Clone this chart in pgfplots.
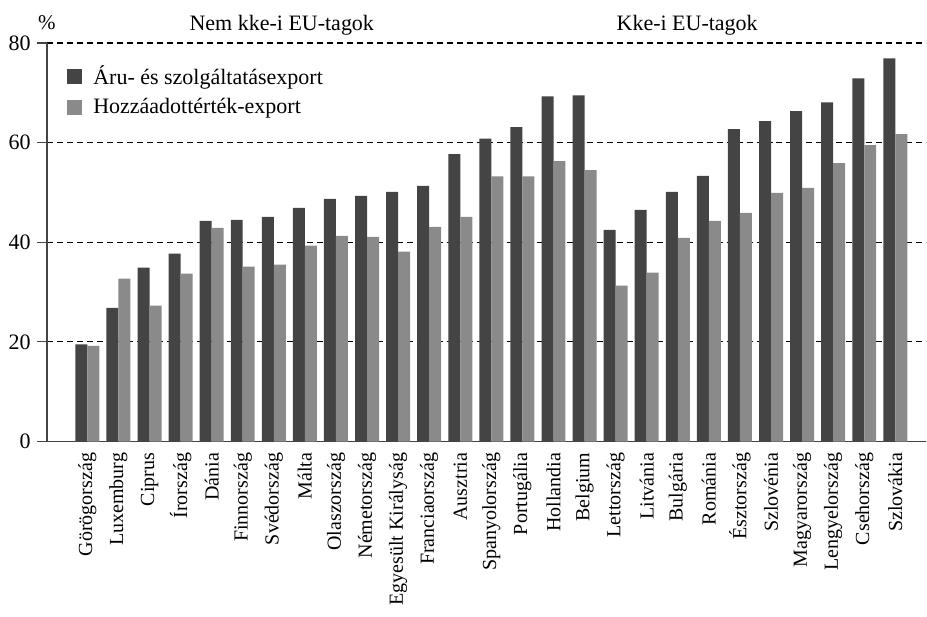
\documentclass[border=0pt]{standalone}
\usepackage{pgfplots}
\pgfplotsset{compat=1.18}
\usepackage{pgfplotstable}
\usepackage{fontspec}
\setmainfont{Liberation Serif}

\definecolor{darkbar}{HTML}{444444}
\definecolor{lightbar}{HTML}{8A8A8A}

% kategória, áru- és szolgáltatásexport, hozzáadottérték-export
\pgfplotstableread{
x dark light
0 19.5 19.2
1 26.8 32.7
2 34.9 27.3
3 37.7 33.7
4 44.3 42.9
5 44.5 35.1
6 45.1 35.5
7 46.9 39.3
8 48.7 41.3
9 49.3 41.1
10 50.1 38.1
11 51.3 43.1
12 57.7 45.1
13 60.8 53.2
14 63.1 53.2
15 69.3 56.3
16 69.5 54.5
17 42.5 31.3
18 46.5 33.9
19 50.1 40.9
20 53.3 44.3
21 62.7 45.9
22 64.3 49.9
23 66.3 50.9
24 68.1 55.9
25 72.9 59.5
26 76.9 61.7
}\exportdata

\begin{document}
\begin{tikzpicture}[font=\fontsize{10.5}{12.6}\selectfont]
\begin{axis}[
    scale only axis,
    width=440pt,
    height=199.4pt,
    ybar=0pt,
    bar width=6pt,
    xmin=-1.3, xmax=27,
    ymin=0, ymax=80,
    axis lines=left,
    axis line style={-, color=darkbar, line width=0.6pt},
    xtick=data,
    xticklabels={Görögország,Luxemburg,Ciprus,Írország,Dánia,Finnország,Svédország,Málta,Olaszország,Németország,{Egyesült Királyság},Franciaország,Ausztria,Spanyolország,Portugália,Hollandia,Belgium,Lettország,Litvánia,Bulgária,Románia,Észtország,Szlovénia,Magyarország,Lengyelország,Csehország,Szlovákia},
    x tick label style={rotate=90, anchor=east, inner sep=0.5pt, font=\fontsize{10}{12}\selectfont},
    x tick style={draw=none},
    ytick={0,20,40,60,80},
    y tick style={color=darkbar, line width=0.6pt},
    tick align=outside,
    major tick length=5pt,
    yticklabel style={inner xsep=3pt, font=\fontsize{11}{13}\selectfont},
    /pgf/number format/assume math mode=true,
    ymajorgrids,
    grid style={black, line width=0.6pt, dash pattern=on 3pt off 2pt},
    legend cell align=left,
    legend style={draw=none, fill=none, at={(rel axis cs:0.0227,0.945)}, anchor=north west,
        row sep=5.5pt, inner sep=0pt, font=\fontsize{11}{13}\selectfont,
        nodes={inner sep=0pt, inner xsep=2.5pt},
        /tikz/every odd column/.append style={column sep=3pt}},
    legend image code/.code={\fill[#1] (0pt,-3.75pt) rectangle (7.5pt,3.75pt);},
    clip=false,
]
\addplot[fill=darkbar, draw=none] table[x=x, y=dark] {\exportdata};
\addplot[fill=lightbar, draw=none] table[x=x, y=light] {\exportdata};
\legend{Áru- és szolgáltatásexport, Hozzáadottérték-export}

\node[anchor=base, font=\fontsize{11}{13}\selectfont] at (rel axis cs:0.267,1) [yshift=6pt] {Nem kke-i EU-tagok};
\node[anchor=base, font=\fontsize{11}{13}\selectfont] at (rel axis cs:0.728,1) [yshift=6pt] {Kke-i EU-tagok};
\node[anchor=base, font=\fontsize{10.5}{12}\selectfont] at (rel axis cs:0,1) [yshift=6.5pt] {\%};
% keret a kép méretéhez
\path (rel axis cs:0,1) ++(-23.5pt,21.5pt);
\path (rel axis cs:1,0) ++(0pt,-87.6pt);
\end{axis}
\end{tikzpicture}
\end{document}
